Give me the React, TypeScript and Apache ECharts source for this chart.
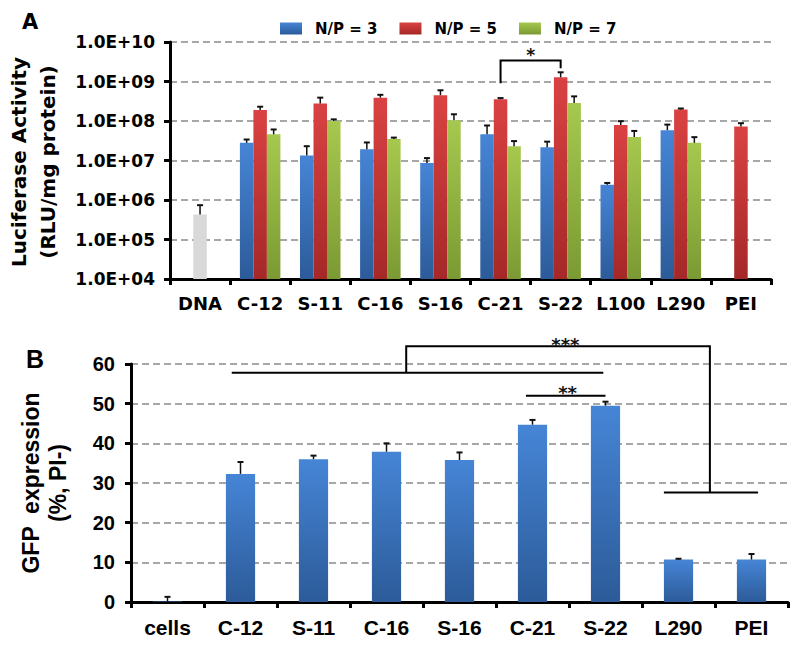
import React, { useEffect, useRef } from 'react';
import * as echarts from 'echarts';

// ---------- Panel A data (log scale) ----------
const CATEGORIES_A = ['DNA', 'C-12', 'S-11', 'C-16', 'S-16', 'C-21', 'S-22', 'L100', 'L290', 'PEI'];
const SERIES_NAMES_A = ['N/P = 3', 'N/P = 5', 'N/P = 7'];
const NP3 = ['-', 2.8e7, 1.34e7, 1.94e7, 8.7e6, 4.6e7, 2.18e7, 2.42e6, 5.85e7, '-'];
const NP3_ERR = ['-', 3.4e7, 2.3e7, 2.86e7, 1.15e7, 7.7e7, 3.0e7, 2.7e6, 8.1e7, '-'];
const NP5 = [4.3e5, 1.9e8, 2.77e8, 3.9e8, 4.5e8, 3.56e8, 1.28e9, 7.9e7, 1.95e8, 7.3e7];
const NP5_ERR = [7.4e5, 2.3e8, 3.9e8, 4.6e8, 6.0e8, 3.8e8, 1.71e9, 9.9e7, 2.07e8, 8.8e7];
const NP7 = ['-', 4.6e7, 1.0e8, 3.5e7, 1.05e8, 2.3e7, 2.87e8, 3.96e7, 2.8e7, '-'];
const NP7_ERR = ['-', 6.1e7, 1.1e8, 3.8e7, 1.48e8, 3.1e7, 4.2e8, 5.6e7, 3.9e7, '-'];
const Y_TICK_LABELS_A = ['1.0E+04', '1.0E+05', '1.0E+06', '1.0E+07', '1.0E+08', '1.0E+09', '1.0E+10'];
const Y_MIN_A = 1e4;
const Y_MAX_A = 1e10;
const SIG_A_LINES = [[[5, 9.0e8], [5, 3.4e9], [6, 3.4e9], [6, 2.16e9]]];
const SIG_A_LABELS = [{ label: '*', at: [5.5, 4.6e9] }];

// ---------- Panel B data (linear) ----------
const CATEGORIES_B = ['cells', 'C-12', 'S-11', 'C-16', 'S-16', 'C-21', 'S-22', 'L290', 'PEI'];
const GFP = [0.1, 32.3, 36.0, 37.9, 35.8, 44.7, 49.5, 10.7, 10.7];
const GFP_ERR = [1.3, 35.3, 36.9, 40.0, 37.7, 45.9, 50.5, 10.9, 12.1];
const SIG_B_LINES = [
  [[0.88, 57.8], [5.97, 57.8]],
  [[3.27, 57.8], [3.27, 64.5], [7.43, 64.5], [7.43, 27.6]],
  [[6.8, 27.6], [8.09, 27.6]],
  [[4.91, 52.0], [6.0, 52.0]],
];
const SIG_B_LABELS = [
  { label: '***', at: [5.45, 64.8] },
  { label: '**', at: [5.48, 52.9] },
];

const FONT_A = 'DejaVu Sans, Arial, sans-serif';
const FONT_B = 'Liberation Sans, Arial, sans-serif';
const BAR_W_A = 13.5;

const grad = (top: string, bottom: string) =>
  new echarts.graphic.LinearGradient(0, 0, 0, 1, [
    { offset: 0, color: top },
    { offset: 1, color: bottom },
  ]);

const BLUE = grad('#4685d6', '#2c5b99');
const RED = grad('#da4242', '#a52828');
const GREEN = grad('#a6c84e', '#7b9a33');
const GRAY = '#d9d9d9';

// category-axis coordinate that also honours fractional positions between categories
function coordFrac(api: any, p: number[]) {
  const i = Math.floor(p[0]);
  const a = api.coord([i, p[1]]);
  const b = api.coord([i + 1, p[1]]);
  return [a[0] + (p[0] - i) * (b[0] - a[0]), a[1]];
}

function errorSeries(values: any[], errs: any[], xAxisIndex: number, yAxisIndex: number, offset: number) {
  const data: any[] = [];
  values.forEach((v, i) => {
    if (v !== '-' && errs[i] !== '-') data.push([i, v, errs[i]]);
  });
  return {
    type: 'custom',
    xAxisIndex,
    yAxisIndex,
    clip: false,
    silent: true,
    z: 5,
    encode: { x: 0, y: 1 },
    data,
    renderItem: (_params: any, api: any) => {
      const x = api.value(0);
      const p1 = api.coord([x, api.value(1)]);
      const p2 = api.coord([x, api.value(2)]);
      const cx = p1[0] + offset;
      return {
        type: 'group',
        children: [
          { type: 'line', shape: { x1: cx, y1: p1[1], x2: cx, y2: p2[1] }, style: { stroke: '#111', lineWidth: 1.5 } },
          { type: 'line', shape: { x1: cx - 3, y1: p2[1], x2: cx + 3, y2: p2[1] }, style: { stroke: '#111', lineWidth: 2 } },
        ],
      };
    },
  };
}

function bracketSeries(
  lines: number[][][],
  labels: { label: string; at: number[] }[],
  xAxisIndex: number,
  yAxisIndex: number,
  baseY: number,
  font: string
) {
  return {
    type: 'custom',
    xAxisIndex,
    yAxisIndex,
    clip: false,
    silent: true,
    z: 6,
    encode: { x: 0, y: 1 },
    data: [[0, baseY]],
    renderItem: (_params: any, api: any) => {
      const children: any[] = [];
      lines.forEach((pts) => {
        children.push({
          type: 'polyline',
          shape: { points: pts.map((p) => coordFrac(api, p)) },
          style: { stroke: '#000', lineWidth: 2, fill: 'none' },
        });
      });
      labels.forEach((l) => {
        const c = coordFrac(api, l.at);
        children.push({
          type: 'text',
          x: c[0],
          y: c[1],
          style: { text: l.label, fill: '#111', font, align: 'center', verticalAlign: 'middle' },
        });
      });
      return { type: 'group', children };
    },
  };
}

const splitLineStyle = { show: true, lineStyle: { color: '#8a8a8a', width: 1.5, type: [7, 4] as any } };

export default function App() {
  const ref = useRef<HTMLDivElement>(null);

  useEffect(() => {
    if (!ref.current) return;
    const chart = echarts.init(ref.current, undefined, { renderer: 'svg' });

    const np5Data = NP5.map((v, i) => (i === 0 ? { value: v, itemStyle: { color: GRAY } } : v));

    chart.setOption({
      animation: false,
      backgroundColor: '#fff',
      legend: {
        data: SERIES_NAMES_A,
        top: 16,
        left: 275,
        itemWidth: 22,
        itemHeight: 12,
        itemGap: 22,
        icon: 'rect',
        textStyle: { color: '#000', fontFamily: FONT_A, fontWeight: 'bold', fontSize: 15, padding: [0, 0, 0, 8] },
      },
      grid: [
        { left: 170, top: 42, width: 601, height: 237 },
        { left: 131, top: 364, width: 657, height: 238 },
      ],
      xAxis: [
        {
          type: 'category',
          gridIndex: 0,
          data: CATEGORIES_A,
          boundaryGap: true,
          axisLine: { lineStyle: { color: '#000', width: 3 } },
          axisTick: { show: true, interval: 0, length: 6, lineStyle: { color: '#000', width: 3 } },
          axisLabel: { color: '#000', fontFamily: FONT_A, fontWeight: 'bold', fontSize: 18, margin: 15, interval: 0 },
        },
        {
          type: 'category',
          gridIndex: 1,
          data: CATEGORIES_B,
          boundaryGap: true,
          axisLine: { lineStyle: { color: '#000', width: 3 } },
          axisTick: { show: true, interval: 0, length: 6, lineStyle: { color: '#000', width: 3 } },
          axisLabel: { color: '#000', fontFamily: FONT_B, fontWeight: 'bold', fontSize: 21, margin: 15, interval: 0 },
        },
      ],
      yAxis: [
        {
          type: 'log',
          gridIndex: 0,
          logBase: 10,
          min: Y_MIN_A,
          max: Y_MAX_A,
          axisLine: { show: true, lineStyle: { color: '#000', width: 3 } },
          axisTick: { show: true, length: 6, lineStyle: { color: '#000', width: 3 } },
          axisLabel: {
            color: '#000',
            fontFamily: FONT_A,
            fontWeight: 'bold',
            fontSize: 17,
            margin: 15,
            formatter: (v: number) => Y_TICK_LABELS_A[Math.round(Math.log10(v / Y_MIN_A))] ?? '',
          },
          splitLine: splitLineStyle,
        },
        {
          type: 'value',
          gridIndex: 1,
          min: 0,
          max: 60,
          interval: 10,
          axisLine: { show: true, lineStyle: { color: '#000', width: 3 } },
          axisTick: { show: true, length: 6, lineStyle: { color: '#000', width: 3 } },
          axisLabel: { color: '#000', fontFamily: FONT_B, fontWeight: 'bold', fontSize: 20, margin: 16 },
          splitLine: splitLineStyle,
        },
      ],
      series: [
        { name: SERIES_NAMES_A[0], type: 'bar', xAxisIndex: 0, yAxisIndex: 0, data: NP3, barWidth: BAR_W_A, barGap: '0%', itemStyle: { color: BLUE } },
        { name: SERIES_NAMES_A[1], type: 'bar', xAxisIndex: 0, yAxisIndex: 0, data: np5Data, barWidth: BAR_W_A, barGap: '0%', itemStyle: { color: RED } },
        { name: SERIES_NAMES_A[2], type: 'bar', xAxisIndex: 0, yAxisIndex: 0, data: NP7, barWidth: BAR_W_A, barGap: '0%', itemStyle: { color: GREEN } },
        errorSeries(NP3, NP3_ERR, 0, 0, -BAR_W_A),
        errorSeries(NP5, NP5_ERR, 0, 0, 0),
        errorSeries(NP7, NP7_ERR, 0, 0, BAR_W_A),
        bracketSeries(SIG_A_LINES, SIG_A_LABELS, 0, 0, 1e5, `bold 17px ${FONT_A}`),
        { name: 'GFP', type: 'bar', xAxisIndex: 1, yAxisIndex: 1, data: GFP, barWidth: '40%', itemStyle: { color: BLUE } },
        errorSeries(GFP, GFP_ERR, 1, 1, 0),
        bracketSeries(SIG_B_LINES, SIG_B_LABELS, 1, 1, 0, `bold 18px ${FONT_A}`),
      ],
      graphic: [
        { type: 'text', x: 22, y: 22, style: { text: 'A', fill: '#000', font: `bold 21px ${FONT_A}`, align: 'left', verticalAlign: 'middle' } },
        { type: 'text', x: 26, y: 359, style: { text: 'B', fill: '#000', font: `bold 25px ${FONT_B}`, align: 'left', verticalAlign: 'middle' } },
        {
          type: 'text',
          x: 33,
          y: 162,
          rotation: Math.PI / 2,
          style: { text: 'Luciferase Activity\n(RLU/mg protein)', fill: '#000', font: `bold 20px ${FONT_A}`, lineHeight: 29, align: 'center', verticalAlign: 'middle' },
        },
        {
          type: 'text',
          x: 44,
          y: 483,
          rotation: Math.PI / 2,
          style: { text: 'GFP  expression\n(%, PI-)', fill: '#000', font: `bold 23px ${FONT_B}`, lineHeight: 27, align: 'center', verticalAlign: 'middle' },
        },
      ],
    });

    return () => chart.dispose();
  }, []);

  return <div ref={ref} style={{ position: 'absolute', left: 0, top: 0, width: 800, height: 645 }} />;
}
